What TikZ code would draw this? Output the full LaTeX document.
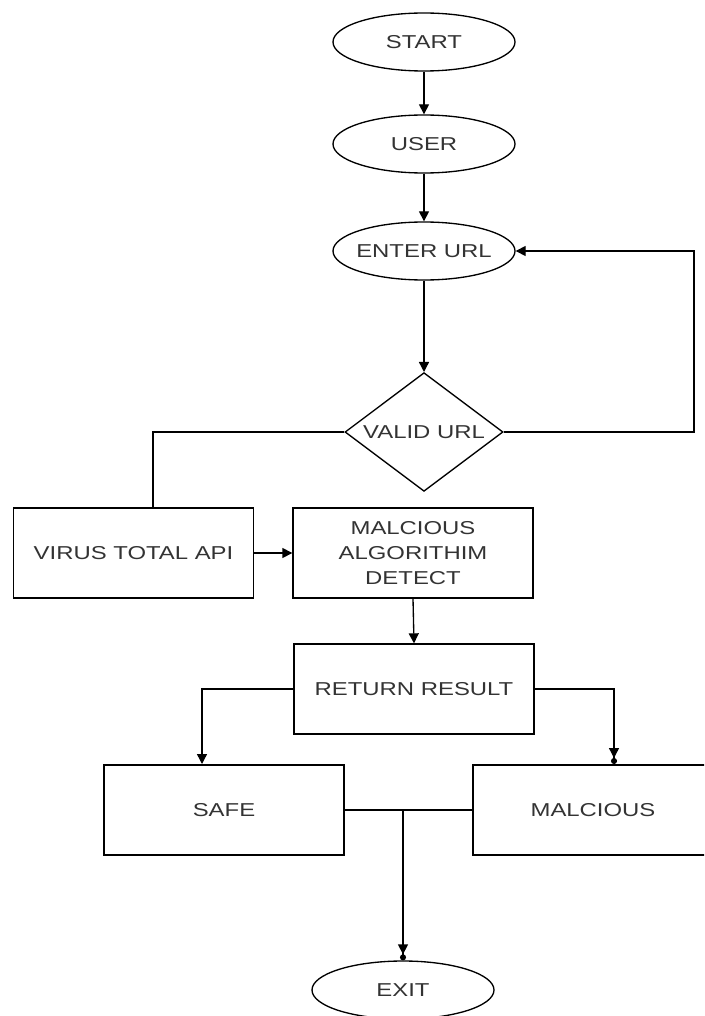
\documentclass[tikz,border=0pt]{standalone}
\usepackage{fontspec}
\setmainfont{Liberation Sans}[FakeStretch=1.28]
\usetikzlibrary{shapes.geometric,arrows.meta}
\definecolor{txtgray}{RGB}{51,51,51}
\newcommand{\fixw}[1]{\makebox[0pt]{#1}}
\tikzset{
  base/.style={draw, line width=1pt, inner sep=0pt, text=txtgray, align=center,
    font=\fontsize{14}{18.75}\selectfont},
  term/.style={base, ellipse, minimum width=136.5pt, minimum height=43.5pt},
  box/.style={base, rectangle, minimum width=180pt, minimum height=67.5pt},
  decide/.style={base, diamond, minimum width=118.5pt, minimum height=89pt},
  link/.style={line width=1pt, -{Triangle[length=7.5pt,width=7.5pt]}},
  linkdot/.style={line width=1pt, -{Triangle[length=7.5pt,width=7.5pt]Circle[length=4.5pt]}},
}
\begin{document}
\begin{tikzpicture}[x=0.75pt, y=-0.75pt]
\clip (0,0) rectangle (704,1016);

\node[term] (start) at (424,42) {\fixw{START}};
\node[term] (user) at (424,144) {\fixw{USER}};
\node[term] (enter) at (424,251) {\fixw{ENTER URL}};
\node[decide] (valid) at (424,432) {\fixw{VALID URL}};

\node[box] (virus) at (133.5,553) {VIRUS TOTAL API};
\node[box] (detect) at (413,553) {MALCIOUS\\ALGORITHIM\\DETECT};
\node[box] (result) at (414,689) {RETURN RESULT};
\node[box] (safe) at (224,810) {SAFE};
\node[box] (malc) at (593,810) {MALCIOUS};
\node[term] (exit) at (403,990) {\fixw{EXIT}};

\coordinate (loopc) at (694,432);
\coordinate (vleft) at (153,508);
\coordinate (safein) at (202,764);
\coordinate (malcin) at (614,764);
\coordinate (join) at (403,810);

\draw[link] (start) -- (user);
\draw[link] (user) -- (enter);
\draw[link] (enter) -- (valid);
\draw[link] (valid.east) -- (loopc) |- (enter.east);
\draw[line width=1pt] (valid.west) -| (vleft);
\draw[link] (virus.east) -- (detect.west);
\draw[link] (detect.south) -- (result.north);
\draw[link] (result.west) -| (safein);
\draw[linkdot] (result.east) -| (malcin);
\draw[line width=1pt] (safe.east) -- (malc.west);
\draw[linkdot] (join) -- (exit.north);
\end{tikzpicture}
\end{document}
